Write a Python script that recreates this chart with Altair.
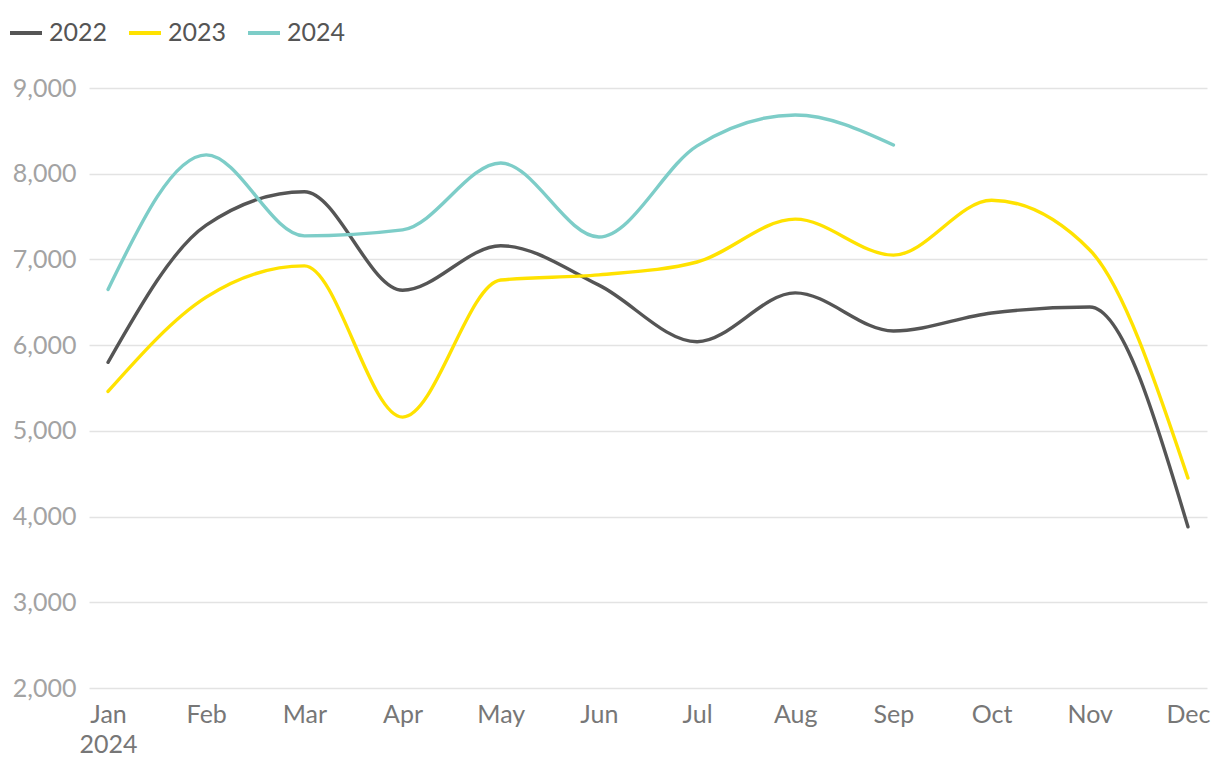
import altair as alt
import pandas as pd

months = ["Jan", "Feb", "Mar", "Apr", "May", "Jun", "Jul", "Aug", "Sep", "Oct", "Nov", "Dec"]
years = ["2022", "2023", "2024"]
colors = ["#555555", "#FFE200", "#7DCDC8"]

v2022 = [5800, 7400, 7790, 6640, 7160, 6700, 6040, 6610, 6165, 6375, 6445, 3880]
v2023 = [5460, 6560, 6925, 5160, 6760, 6820, 6970, 7470, 7050, 7690, 7110, 4450]
v2024 = [6650, 8220, 7275, 7345, 8125, 7262, 8325, 8685, 8335]

rows = []
for yr, vals in zip(years, [v2022, v2023, v2024]):
    for m, v in zip(months, vals):
        rows.append({"month": m, "year": yr, "value": v})
df = pd.DataFrame(rows)

chart = alt.Chart(df).mark_line(interpolate="monotone", strokeWidth=3.4, strokeCap="round").encode(
    x=alt.X("month:O", sort=months, scale=alt.Scale(type="point", padding=0.194),
            axis=alt.Axis(title=None, labelAngle=0, ticks=False, domain=False, grid=False,
                          labelFont="Lato", labelFontSize=25, labelColor="#777777",
                          labelPadding=14, labelLineHeight=30,
                          labelExpr="datum.value == 'Jan' ? ['Jan', '2024'] : datum.value")),
    y=alt.Y("value:Q", scale=alt.Scale(domain=[2000, 9000], nice=False, zero=False),
            axis=alt.Axis(title=None, values=[2000, 3000, 4000, 5000, 6000, 7000, 8000, 9000],
                          format=",d", ticks=False, domain=False, grid=True,
                          gridColor="#e3e3e3", gridWidth=1.5,
                          labelFont="Lato", labelFontSize=25, labelColor="#a3a3a3",
                          labelPadding=13)),
    color=alt.Color("year:N", scale=alt.Scale(domain=years, range=colors),
                    legend=alt.Legend(title=None, orient="none", direction="horizontal",
                                      legendX=-81, legendY=-73,
                                      symbolType="stroke", symbolSize=1024, symbolStrokeWidth=4,
                                      labelFont="Lato", labelFontSize=25, labelColor="#555555",
                                      labelOffset=5, columnPadding=13)),
).properties(
    width=1118, height=600,
    padding={"left": 81, "top": 80, "right": 5, "bottom": 70},
    autosize=alt.AutoSizeParams(type="none"),
).configure_view(stroke=None)

chart.save("out.html", embed_options={"renderer": "svg", "actions": False})
